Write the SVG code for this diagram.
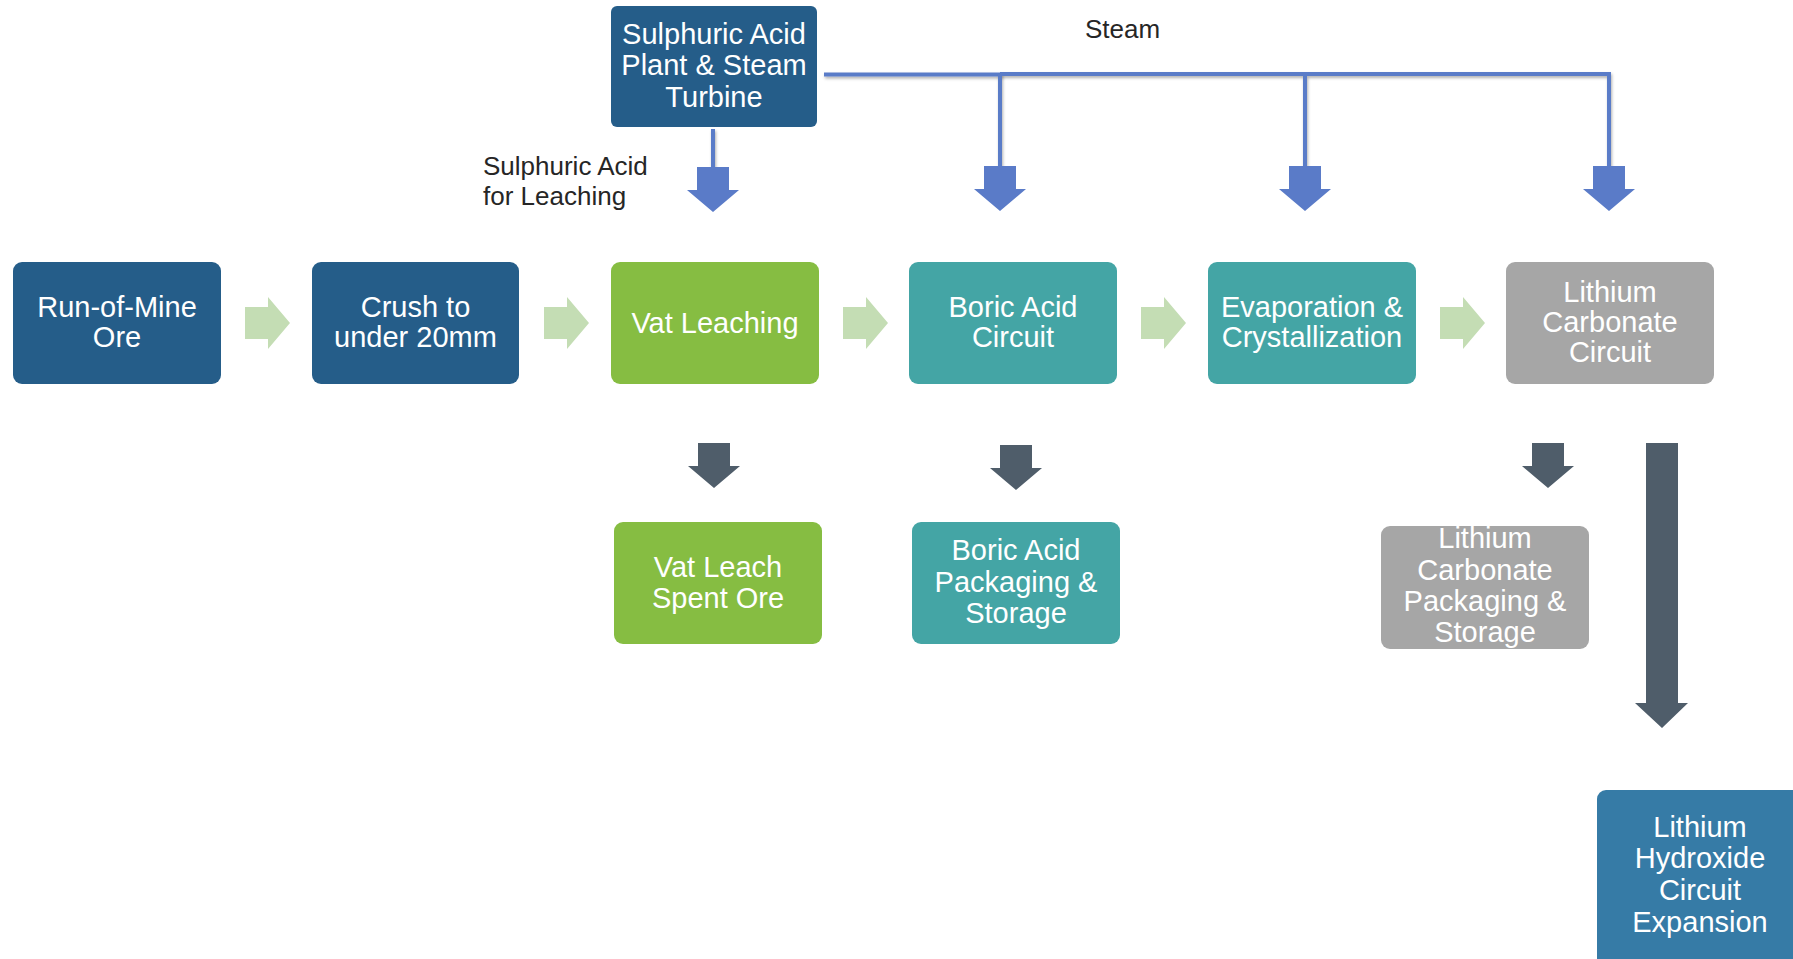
<svg xmlns="http://www.w3.org/2000/svg" width="1793" height="959" viewBox="0 0 1793 959">
<defs>
<style>
.box{stroke:none}
.t{font-family:"Liberation Sans",Arial,sans-serif;font-size:29px;fill:#ffffff;text-anchor:middle}
.lbl{font-family:"Liberation Sans",Arial,sans-serif;font-size:26px;fill:#262626}
.navy{fill:#255D89}
.green{fill:#86BD42}
.teal{fill:#44A5A5}
.gray{fill:#A6A6A6}
.blue2{fill:#367BA6}
.ga{fill:#C4DDB4}
.ba{fill:#5A7BC8}
.da{fill:#4F5D6A}
.steam{fill:none;stroke:#5A7BC8;stroke-width:4;filter:url(#sh)}
</style>
<filter id="sh" filterUnits="userSpaceOnUse" x="0" y="0" width="1793" height="959">
<feDropShadow dx="1" dy="2" stdDeviation="1.5" flood-color="#000" flood-opacity="0.3"/>
</filter>
<path id="garrow" d="M0,-16 H23 V-26 L45,0 L23,26 V16 H0 Z"/>
<path id="darrow" d="M-16,0 H16 V23 H26 L0,45 L-26,23 H-16 Z"/>
</defs>
<rect width="1793" height="959" fill="#ffffff"/>

<g id="connectors">
<path class="steam" d="M713,129 V170" stroke-width="3"/>
<path class="steam" d="M824,74.5 H1002" stroke-width="6"/>
<path class="steam" d="M1000,74 H1609 V178 M1000,74 V178 M1305,74 V178"/>
<use href="#darrow" class="ba" x="713" y="167"/>
<use href="#darrow" class="ba" x="1000" y="166"/>
<use href="#darrow" class="ba" x="1305" y="166"/>
<use href="#darrow" class="ba" x="1609" y="166"/>
<use href="#garrow" class="ga" x="245" y="323"/>
<use href="#garrow" class="ga" x="544" y="323"/>
<use href="#garrow" class="ga" x="843" y="323"/>
<use href="#garrow" class="ga" x="1141" y="323"/>
<use href="#garrow" class="ga" x="1440" y="323"/>
<use href="#darrow" class="da" x="714" y="443"/>
<use href="#darrow" class="da" x="1016" y="445"/>
<use href="#darrow" class="da" x="1548" y="443"/>
<path class="da" d="M1646,443 H1678 V703 H1688 L1662,728 L1635,703 H1646 Z"/>
</g>

<g id="label-acid">
<text class="lbl" x="483" y="175">Sulphuric Acid</text>
<text class="lbl" x="483" y="205">for Leaching</text>
</g>
<g id="label-steam">
<text class="lbl" x="1085" y="38" font-size="25">Steam</text>
</g>

<g id="n-sulphuric">
<rect class="box navy" x="611" y="6" width="206" height="121" rx="6"/>
<text class="t" x="714" y="44">Sulphuric Acid</text>
<text class="t" x="714" y="75">Plant &amp; Steam</text>
<text class="t" x="714" y="107">Turbine</text>
</g>

<g id="n-rom">
<rect class="box navy" x="13" y="262" width="208" height="122" rx="9"/>
<text class="t" x="117" y="317">Run-of-Mine</text>
<text class="t" x="117" y="347">Ore</text>
</g>
<g id="n-crush">
<rect class="box navy" x="312" y="262" width="207" height="122" rx="9"/>
<text class="t" x="415.5" y="317">Crush to</text>
<text class="t" x="415.5" y="347">under 20mm</text>
</g>
<g id="n-vat">
<rect class="box green" x="611" y="262" width="208" height="122" rx="9"/>
<text class="t" x="715" y="333">Vat Leaching</text>
</g>
<g id="n-boric">
<rect class="box teal" x="909" y="262" width="208" height="122" rx="9"/>
<text class="t" x="1013" y="317">Boric Acid</text>
<text class="t" x="1013" y="347">Circuit</text>
</g>
<g id="n-evap">
<rect class="box teal" x="1208" y="262" width="208" height="122" rx="9"/>
<text class="t" x="1312" y="317">Evaporation &amp;</text>
<text class="t" x="1312" y="347">Crystallization</text>
</g>
<g id="n-licarb">
<rect class="box gray" x="1506" y="262" width="208" height="122" rx="9"/>
<text class="t" x="1610" y="302">Lithium</text>
<text class="t" x="1610" y="332">Carbonate</text>
<text class="t" x="1610" y="362">Circuit</text>
</g>

<g id="n-vatspent">
<rect class="box green" x="614" y="522" width="208" height="122" rx="9"/>
<text class="t" x="718" y="577">Vat Leach</text>
<text class="t" x="718" y="608">Spent Ore</text>
</g>
<g id="n-boricpkg">
<rect class="box teal" x="912" y="522" width="208" height="122" rx="9"/>
<text class="t" x="1016" y="560">Boric Acid</text>
<text class="t" x="1016" y="592">Packaging &amp;</text>
<text class="t" x="1016" y="623">Storage</text>
</g>
<g id="n-licarbpkg">
<rect class="box gray" x="1381" y="526" width="208" height="123" rx="9"/>
<text class="t" x="1485" y="548">Lithium</text>
<text class="t" x="1485" y="580">Carbonate</text>
<text class="t" x="1485" y="611">Packaging &amp;</text>
<text class="t" x="1485" y="642">Storage</text>
</g>
<g id="n-lihydroxide">
<rect class="box blue2" x="1597" y="790" width="215" height="190" rx="9"/>
<text class="t" x="1700" y="837">Lithium</text>
<text class="t" x="1700" y="868">Hydroxide</text>
<text class="t" x="1700" y="900">Circuit</text>
<text class="t" x="1700" y="932">Expansion</text>
</g>
</svg>
